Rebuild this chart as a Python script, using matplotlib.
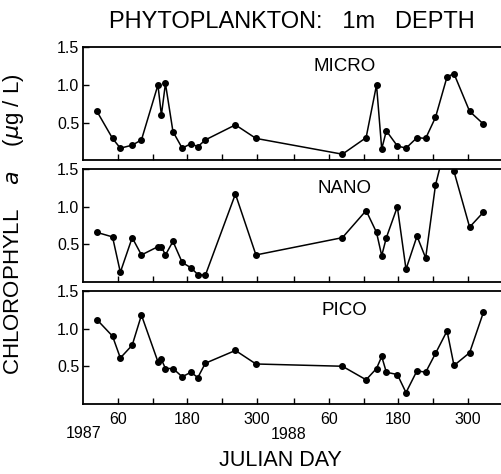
import matplotlib
matplotlib.use("Agg")
import matplotlib.pyplot as plt

plt.rcParams['font.family'] = ['Liberation Sans', 'DejaVu Sans']

# Julian days of sampling
days_1987 = [23.5, 50.5, 64, 84.5, 100.5, 129, 135, 142, 155, 171, 186, 198, 211, 263, 298.5]
days_1988 = [83, 124, 142, 151, 159, 178, 193, 212, 227, 244, 264, 276, 303, 327]
year_len = 365

micro = [0.65, 0.29, 0.16, 0.20, 0.27, 1.00, 0.60, 1.02, 0.38, 0.16, 0.22, 0.18, 0.27, 0.47, 0.29,
         0.08, 0.30, 1.00, 0.15, 0.39, 0.19, 0.16, 0.30, 0.29, 0.57, 1.11, 1.15, 0.65, 0.48]
nano = [0.66, 0.60, 0.13, 0.59, 0.36, 0.47, 0.47, 0.36, 0.54, 0.26, 0.19, 0.10, 0.09, 1.17, 0.36,
        0.59, 0.95, 0.66, 0.35, 0.59, 1.00, 0.17, 0.61, 0.32, 1.29, 1.90, 1.47, 0.73, 0.93]
pico = [1.12, 0.90, 0.61, 0.78, 1.18, 0.56, 0.59, 0.47, 0.47, 0.36, 0.42, 0.35, 0.54, 0.71, 0.53,
        0.50, 0.32, 0.47, 0.63, 0.42, 0.39, 0.15, 0.44, 0.42, 0.67, 0.97, 0.51, 0.68, 1.22]

panel_names = ["MICRO", "NANO", "PICO"]
series = [micro, nano, pico]

major_ticks = [60, 180, 300, 60, 180, 300]
minor_ticks_1987 = [120, 240]
minor_ticks_1988 = [0, 120, 240]
ytick_vals = [0.5, 1.0, 1.5]

x_all = days_1987 + [d + year_len for d in days_1988]
major_pos = major_ticks[:3] + [d + year_len for d in major_ticks[3:]]
minor_pos = minor_ticks_1987 + [d + year_len for d in minor_ticks_1988]

fig = plt.figure(figsize=(5.02, 4.74), dpi=100)
left = 0.166
width = 1.0 - left
h = 0.238
bottoms = [0.662, 0.405, 0.148]

axes = []
for i, (name, vals) in enumerate(zip(panel_names, series)):
    ax = fig.add_axes([left, bottoms[i], width, h])
    ax.plot(x_all, vals, color='black', lw=1.1, marker='o', ms=4, mfc='black', mec='black',
            clip_on=True)
    ax.set_xlim(0, 724)
    ax.set_ylim(0, 1.5)
    ax.set_yticks(ytick_vals)
    ax.set_yticklabels(["0.5", "1.0", "1.5"], fontsize=11.5)
    ax.set_xticks(major_pos)
    ax.set_xticks(minor_pos, minor=True)
    ax.tick_params(axis='both', which='both', direction='in', length=4, width=1.0, top=False, right=False)
    ax.tick_params(axis='y', pad=3)
    for s in ['left', 'bottom', 'top']:
        ax.spines[s].set_linewidth(1.3)
    ax.spines['right'].set_visible(False)
    ax.text(451, 1.24, name, fontsize=13.5, ha='center', va='center')
    if i < 2:
        ax.set_xticklabels([])
    else:
        ax.set_xticklabels([str(t) for t in major_ticks], fontsize=11.5)
        ax.tick_params(axis='x', pad=6)
        ax.text(0, -0.40, "1987", fontsize=11.5, ha='center', va='center')
        ax.text(355, -0.41, "1988", fontsize=11.5, ha='center', va='center')
    axes.append(ax)

fig.text(0.582, 0.953, "PHYTOPLANKTON:   1m   DEPTH", fontsize=17, ha='center', va='center')
fig.text(0.558, 0.028, "JULIAN DAY", fontsize=15.5, ha='center', va='center')
fig.text(0.027, 0.528, "CHLOROPHYLL    $\\mathit{a}$    ($\\mu$g / L)", fontsize=16,
         rotation=90, ha='center', va='center')

fig.savefig("out.png", dpi=100)
